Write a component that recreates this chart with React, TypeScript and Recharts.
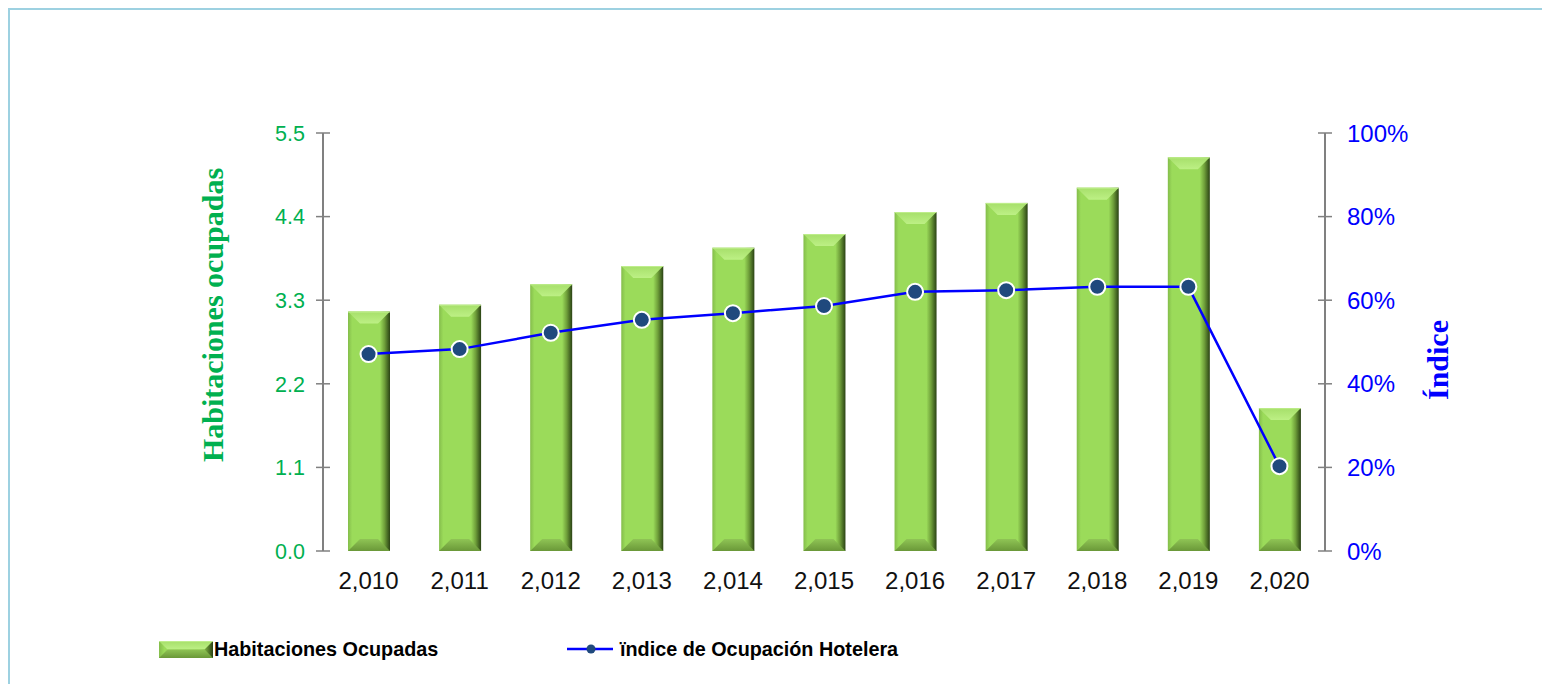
import { ComposedChart, Bar, Line, XAxis, YAxis, Legend, Label } from 'recharts';

const years = ['2,010', '2,011', '2,012', '2,013', '2,014', '2,015', '2,016', '2,017', '2,018', '2,019', '2,020'];
const habitaciones = [3.15, 3.24, 3.51, 3.75, 3.99, 4.17, 4.46, 4.58, 4.78, 5.18, 1.88];
const indice = [0.471, 0.483, 0.522, 0.553, 0.569, 0.586, 0.62, 0.624, 0.632, 0.632, 0.203];
const leftTicks = [0, 1.1, 2.2, 3.3, 4.4, 5.5];
const rightTicks = [0, 0.2, 0.4, 0.6, 0.8, 1];

const data = years.map((year, i) => ({ year, hab: habitaciones[i], idx: indice[i] }));

const SANS = '"Liberation Sans", Arial, sans-serif';
const SERIF = '"Liberation Serif", "Times New Roman", serif';
const GREEN = '#00b050';
const BLUE = '#0000ff';
const AXIS = '#808080';
const TICK = 7;

const BevelBar = (props: any) => {
  const { x, y, width, height } = props;
  if (!height || height <= 0) return null;
  const b = Math.min(12, width / 3.4, height / 2);
  return (
    <g>
      <rect x={x} y={y} width={width} height={height} fill="url(#barBody)" />
      <polygon
        points={`${x},${y} ${x + width},${y} ${x + width - b},${y + b} ${x + b},${y + b}`}
        fill="url(#barTop)"
      />
      <polygon
        points={`${x},${y + height} ${x + width},${y + height} ${x + width - b},${y + height - b} ${x + b},${y + height - b}`}
        fill="url(#barBottom)"
      />
      <rect x={x} y={y} width={width} height={1} fill="#c9f39a" opacity={0.7} />
    </g>
  );
};

const LeftTick = (props: any) => {
  const { x, y, payload } = props;
  const ax = x + TICK + 11;
  return (
    <g>
      <line x1={ax} x2={ax + TICK} y1={y} y2={y} stroke={AXIS} strokeWidth={1.5} />
      <text x={x} y={y} dy="0.36em" textAnchor="end" fontFamily={SANS} fontSize={21.5} fill={GREEN}>
        {Number(payload.value).toFixed(1)}
      </text>
    </g>
  );
};

const RightTick = (props: any) => {
  const { x, y, payload } = props;
  const ax = x - TICK - 15;
  return (
    <g>
      <line x1={ax - TICK} x2={ax} y1={y} y2={y} stroke={AXIS} strokeWidth={1.5} />
      <text x={x} y={y} dy="0.36em" textAnchor="start" fontFamily={SANS} fontSize={24} fill={BLUE}>
        {`${Math.round(payload.value * 100)}%`}
      </text>
    </g>
  );
};

const LegendContent = () => (
  <div style={{ position: 'relative', height: 20, fontFamily: SANS, fontWeight: 'bold', fontSize: 19.8, color: '#000' }}>
    <svg width={54} height={17} style={{ position: 'absolute', left: 149, top: 2 }}>
      <BevelBar x={0} y={0} width={54} height={17} />
    </svg>
    <span style={{ position: 'absolute', left: 204, top: -1, whiteSpace: 'nowrap' }}>Habitaciones Ocupadas</span>
    <svg width={46} height={20} style={{ position: 'absolute', left: 557, top: 0 }}>
      <line x1={0} x2={46} y1={10} y2={10} stroke={BLUE} strokeWidth={2.5} />
      <circle cx={24} cy={10} r={4.5} fill="#1f497d" />
    </svg>
    <span style={{ position: 'absolute', left: 610, top: -1, whiteSpace: 'nowrap' }}>ïndice de Ocupación Hotelera</span>
  </div>
);

export default function App() {
  return (
    <div
      style={{
        position: 'fixed',
        left: 8,
        top: 8,
        width: 1600,
        height: 760,
        borderTop: '2px solid #9dd1e1',
        borderLeft: '2px solid #9dd1e1',
        background: '#fff',
      }}
    >
      <ComposedChart
        width={1532}
        height={666}
        data={data}
        margin={{ top: 123, right: 0, bottom: 65, left: 0 }}
        barCategoryGap={0}
      >
        <defs>
          <linearGradient id="barBody" x1="0" y1="0" x2="1" y2="0">
            <stop offset="0" stopColor="#84bd4b" />
            <stop offset="0.1" stopColor="#9bdb5a" />
            <stop offset="0.76" stopColor="#9bdb5a" />
            <stop offset="0.87" stopColor="#6f9f3a" />
            <stop offset="1" stopColor="#2a4214" />
          </linearGradient>
          <linearGradient id="barTop" x1="0" y1="0" x2="0" y2="1">
            <stop offset="0" stopColor="#a6df6a" />
            <stop offset="1" stopColor="#bdf085" />
          </linearGradient>
          <linearGradient id="barBottom" x1="0" y1="0" x2="0" y2="1">
            <stop offset="0" stopColor="#8fc455" />
            <stop offset="1" stopColor="#6a9838" />
          </linearGradient>
        </defs>
        <XAxis
          dataKey="year"
          axisLine={false}
          tickLine={false}
          tickSize={0}
          tickMargin={21}
          height={40}
          tick={{ fontSize: 24, fill: '#111', fontFamily: SANS }}
        />
        <YAxis
          yAxisId="left"
          orientation="left"
          width={313}
          domain={[0, 5.5]}
          ticks={leftTicks}
          interval={0}
          tickSize={TICK}
          tickMargin={11}
          axisLine={{ stroke: AXIS, strokeWidth: 2 }}
          tickLine={{ stroke: AXIS, strokeWidth: 1.5 }}
          tick={<LeftTick />}
        >
          <Label
            content={(p: any) => {
              const vb = p.viewBox || { x: 0 };
              const cx = vb.x + 202;
              const cy = 305;
              return (
                <text
                  x={cx}
                  y={cy}
                  transform={`rotate(-90 ${cx} ${cy})`}
                  textAnchor="middle"
                  dominantBaseline="central"
                  fontFamily={SERIF}
                  fontWeight="bold"
                  fontSize={30}
                  fill={GREEN}
                >
                  Habitaciones ocupadas
                </text>
              );
            }}
          />
        </YAxis>
        <YAxis
          yAxisId="right"
          orientation="right"
          width={217}
          domain={[0, 1]}
          ticks={rightTicks}
          interval={0}
          tickSize={TICK}
          tickMargin={15}
          axisLine={{ stroke: AXIS, strokeWidth: 2 }}
          tickLine={{ stroke: AXIS, strokeWidth: 1.5 }}
          tick={<RightTick />}
        >
          <Label
            content={(p: any) => {
              const vb = p.viewBox || { x: 1315 };
              const cx = vb.x + 112;
              const cy = 350;
              return (
                <text
                  x={cx}
                  y={cy}
                  transform={`rotate(-90 ${cx} ${cy})`}
                  textAnchor="middle"
                  dominantBaseline="central"
                  fontFamily={SERIF}
                  fontWeight="bold"
                  fontSize={30}
                  fill={BLUE}
                >
                  Índice
                </text>
              );
            }}
          />
        </YAxis>
        <Legend
          verticalAlign="bottom"
          align="left"
          layout="horizontal"
          height={20}
          wrapperStyle={{ top: 629, bottom: 'auto', left: 0, width: 1532 }}
          content={<LegendContent />}
        />
        <Bar
          yAxisId="left"
          dataKey="hab"
          name="Habitaciones Ocupadas"
          barSize={42}
          shape={<BevelBar />}
          isAnimationActive={false}
        />
        <Line
          yAxisId="right"
          dataKey="idx"
          name="ïndice de Ocupación Hotelera"
          stroke={BLUE}
          strokeWidth={2.5}
          dot={{ r: 8, fill: '#1f497d', stroke: '#fff', strokeWidth: 2 }}
          activeDot={false}
          isAnimationActive={false}
        />
      </ComposedChart>
    </div>
  );
}
